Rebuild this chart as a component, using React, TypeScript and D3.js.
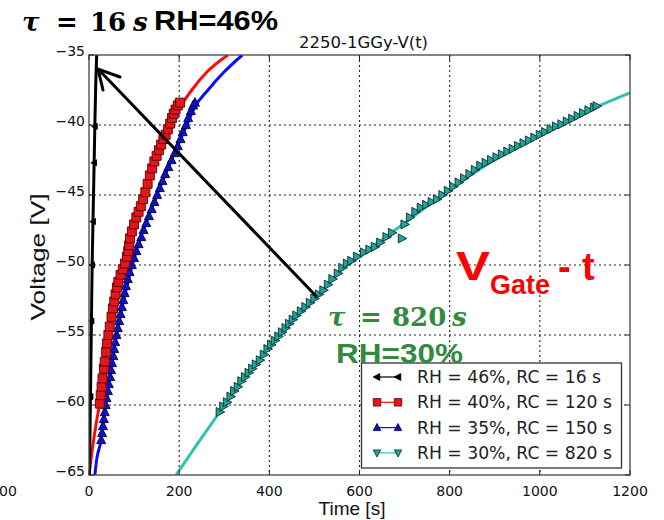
import React from "react";
import * as d3 from "d3";

// ---------- data ----------
const xTicks = [0, 200, 400, 600, 800, 1000, 1200];
const yTicks = [-65, -60, -55, -50, -45, -40, -35];

// RH = 46%, RC = 16 s
const blackLine: [number, number][] = [
  [1, -65], [3, -60], [5, -55], [7, -50], [10, -45], [13, -40], [15, -37], [17, -35],
];
const blackMarkers: [number, number][] = [
  [3.5, -59.4], [5.5, -54], [7, -50], [9, -46.9], [11.5, -42.7], [13, -40.1],
];

// RH = 40%, RC = 120 s
const redLine: [number, number][] = [
  [0, -65], [8, -63], [16, -61.3], [23, -60], [33, -57.5], [43, -55], [58, -52.5], [77, -50],
  [98, -47.5], [123, -45], [151, -42.5], [183, -40], [203, -38.7], [228, -37.5], [262, -36.2], [308, -35],
];
const redMarkers: [number, number][] = [
  [24, -59.9], [26, -59.3], [28, -58.7], [30, -58.1], [33, -57.4], [35, -56.9], [38, -56.2], [40, -55.6],
  [43, -55.0], [46, -54.4], [50, -53.7], [53, -53.1], [56, -52.6], [59, -52.1], [62, -51.6], [65, -51.2],
  [70, -50.7], [75, -50.3], [80, -49.9], [84, -49.4], [87, -49.0], [89, -48.6], [91, -48.1], [95, -47.6],
  [100, -47.1], [105, -46.6], [110, -46.2], [115, -45.8], [120, -45.3], [125, -44.8], [130, -44.2],
  [135, -43.6], [140, -43.1], [145, -42.6], [150, -42.2], [155, -41.8], [160, -41.4], [165, -41.0],
  [170, -40.7], [175, -40.3], [180, -39.9], [184, -39.5], [188, -39.2], [192, -38.9], [197, -38.6], [202, -38.4],
];

// RH = 35%, RC = 150 s
const blueLine: [number, number][] = [
  [13, -65], [17, -63.9], [27, -62.5], [37, -60], [61, -55], [96, -50], [151, -45], [217, -40],
  [235, -38.7], [264, -37.5], [300, -36.2], [340, -35],
];
const blueMarkers: [number, number][] = [
  [27, -62.5], [29, -62.0], [31, -61.5], [33, -61.0], [35, -60.5], [37, -60.0], [39, -59.5], [42, -59.0],
  [44, -58.5], [47, -58.0], [49, -57.5], [51, -57.0], [54, -56.5], [56, -56.0], [58, -55.5], [61, -55.0],
  [64, -54.5], [67, -54.0], [70, -53.5], [73, -53.0], [76, -52.5], [79, -52.0], [82, -51.5], [86, -51.0],
  [90, -50.5], [95, -50.0], [100, -49.5], [105, -49.0], [110, -48.5], [116, -48.0], [121, -47.5],
  [127, -47.0], [133, -46.5], [139, -46.0], [145, -45.5], [151, -45.0], [157, -44.5], [163, -44.0],
  [169, -43.5], [176, -43.0], [183, -42.5], [190, -42.0], [197, -41.5], [203, -41.0], [208, -40.5],
  [215, -40.0], [220, -39.5], [226, -39.0], [231, -38.6], [235, -38.4],
];

// RH = 30%, RC = 820 s
const tealLine: [number, number][] = [
  [193, -65], [240, -62.8], [290, -60.5], [350, -57.8], [400, -55.8], [450, -53.9], [510, -52.1],
  [562, -50.3], [620, -48.9], [700, -47.0], [780, -45.1], [850, -43.5], [930, -41.9], [1000, -40.7],
  [1050, -39.9], [1126, -38.7], [1200, -37.7],
];
const tealMarkers: [number, number][] = [
  [290, -60.5], [298, -60.1], [306, -59.8], [314, -59.4], [322, -59.0], [330, -58.7], [338, -58.3],
  [346, -58.0], [354, -57.7], [362, -57.4], [370, -57.1], [379, -56.8], [388, -56.4], [396, -56.0],
  [404, -55.7], [412, -55.4], [420, -55.1], [428, -54.8], [436, -54.5], [444, -54.2], [452, -53.9],
  [460, -53.6], [470, -53.3], [480, -53.0], [490, -52.7], [500, -52.4], [510, -52.1], [520, -51.8],
  [530, -51.4], [540, -51.0], [552, -50.6], [562, -50.2], [572, -49.9], [582, -49.7], [595, -49.4],
  [610, -49.1], [622, -48.9], [634, -48.7], [646, -48.4], [660, -48.0], [672, -47.7], [694, -48.1],
  [700, -47.1], [712, -46.6], [724, -46.2], [736, -45.9], [748, -45.7], [760, -45.5], [772, -45.3],
  [784, -45.0], [796, -44.7], [808, -44.4], [820, -44.1], [832, -43.8], [844, -43.5], [856, -43.2],
  [868, -42.9], [880, -42.7], [892, -42.5], [904, -42.3], [916, -42.1], [928, -41.9], [940, -41.7],
  [952, -41.5], [964, -41.3], [976, -41.1], [988, -40.9], [1000, -40.7], [1012, -40.5], [1024, -40.3],
  [1036, -40.1], [1048, -39.95], [1060, -39.75], [1072, -39.55], [1084, -39.35], [1096, -39.15],
  [1108, -38.95], [1120, -38.75], [1126, -38.65],
];

const legendLabels = [
  "RH = 46%, RC = 16 s",
  "RH = 40%, RC = 120 s",
  "RH = 35%, RC = 150 s",
  "RH = 30%, RC = 820 s",
];

const title = "2250-1GGy-V(t)";
const xLabel = "Time [s]";
const yLabel = "Voltage [V]";

// ---------- layout ----------
const W = 664, H = 520;
const L = 89, R = 630, T = 55, B = 475;

const x = d3.scaleLinear().domain([0, 1200]).range([L, R]);
const y = d3.scaleLinear().domain([-65, -35]).range([B, T]);

const line = d3
  .line<[number, number]>()
  .x((d) => x(d[0]))
  .y((d) => y(d[1]))
  .curve(d3.curveMonotoneX);

const SANS = "'DejaVu Sans', sans-serif";
const ARIAL = "'Liberation Sans', Arial, sans-serif";
const SERIF = "'DejaVu Serif', serif";
const fmt = (v: number) => String(v).replace("-", "\u2212");

type MarkerKind = "left" | "square" | "up" | "down" | "right";

function markerPath(kind: MarkerKind, s: number): string {
  const h = s / 2;
  switch (kind) {
    case "square":
      return `M${-h},${-h}H${h}V${h}H${-h}Z`;
    case "up":
      return `M0,${-h * 1.1}L${h},${h * 0.8}L${-h},${h * 0.8}Z`;
    case "down":
      return `M0,${h * 1.1}L${h},${-h * 0.8}L${-h},${-h * 0.8}Z`;
    case "right":
      return `M${h * 1.1},0L${-h * 0.8},${h}L${-h * 0.8},${-h}Z`;
    case "left":
      return `M${-h * 1.1},0L${h * 0.8},${h}L${h * 0.8},${-h}Z`;
  }
}

const styles = {
  black: { line: "#000000", fill: "#000000", stroke: "#000000", kind: "left" as MarkerKind, size: 6 },
  red: { line: "#ff0a0a", fill: "#e3161b", stroke: "#5a0000", kind: "square" as MarkerKind, size: 9 },
  blue: { line: "#0a0aff", fill: "#1010cc", stroke: "#000040", kind: "up" as MarkerKind, size: 9 },
  teal: { line: "#2ec4b4", fill: "#1fa497", stroke: "#0b2e2b", kind: "right" as MarkerKind, size: 9 },
};

export default function App() {
  const gridDash = "2,3";
  const series = [
    { ln: tealLine, mk: tealMarkers, st: styles.teal },
    { ln: blueLine, mk: blueMarkers, st: styles.blue },
    { ln: redLine, mk: redMarkers, st: styles.red },
    { ln: blackLine, mk: blackMarkers, st: styles.black },
  ];
  const legendStyles = [
    { ...styles.black, kind: "left" as MarkerKind },
    styles.red,
    styles.blue,
    { ...styles.teal, kind: "down" as MarkerKind },
  ];
  const green = "#33893f";

  return (
    <svg
      width={W}
      height={H}
      viewBox={`0 0 ${W} ${H}`}
      style={{ position: "absolute", left: 0, top: 0, background: "#fff" }}
    >
      <defs>
        <clipPath id="plot">
          <rect x={L} y={T} width={R - L} height={B - T} />
        </clipPath>
      </defs>
      <rect x={0} y={0} width={W} height={H} fill="#fff" />

      {/* grid */}
      <g stroke="#222" strokeWidth={1.1} strokeDasharray={gridDash}>
        {xTicks.slice(1, -1).map((t) => (
          <line key={"gx" + t} x1={x(t)} x2={x(t)} y1={T} y2={B} />
        ))}
        {yTicks.slice(1, -1).map((v) => (
          <line key={"gy" + v} x1={L} x2={R} y1={y(v)} y2={y(v)} />
        ))}
      </g>

      {/* series */}
      <g clipPath="url(#plot)">
        {series.map((s, i) => (
          <path
            key={"l" + i}
            d={line(s.ln) || ""}
            fill="none"
            stroke={s.st.line}
            strokeWidth={3}
          />
        ))}
        {series.map((s, i) => (
          <g key={"m" + i}>
            {s.mk.map((d, j) => (
              <path
                key={j}
                transform={`translate(${x(d[0])},${y(d[1])})`}
                d={markerPath(s.st.kind, s.st.size)}
                fill={s.st.fill}
                stroke={s.st.stroke}
                strokeWidth={0.9}
              />
            ))}
          </g>
        ))}
      </g>

      {/* frame */}
      <rect x={L} y={T} width={R - L} height={B - T} fill="none" stroke="#444" strokeWidth={1.3} />
      {/* ticks */}
      <g stroke="#222" strokeWidth={1}>
        {xTicks.map((t) => (
          <g key={"tx" + t}>
            <line x1={x(t)} x2={x(t)} y1={B} y2={B - 5} />
            <line x1={x(t)} x2={x(t)} y1={T} y2={T + 5} />
          </g>
        ))}
        {yTicks.map((v) => (
          <g key={"ty" + v}>
            <line x1={L} x2={L + 5} y1={y(v)} y2={y(v)} />
            <line x1={R} x2={R - 5} y1={y(v)} y2={y(v)} />
          </g>
        ))}
      </g>

      {/* tick labels */}
      <g fontFamily={SANS} fontSize={14} fill="#111">
        {yTicks.map((v) => (
          <text key={"yl" + v} x={L - 4} y={y(v) + 1} textAnchor="end">
            {fmt(v)}
          </text>
        ))}
        {xTicks.map((t) => (
          <text key={"xl" + t} x={x(t)} y={B + 21} textAnchor="middle">
            {fmt(t)}
          </text>
        ))}
        <text x={-1} y={B + 21}>00</text>
      </g>

      {/* axis labels and title */}
      <text x={(L + R) / 2 + 4} y={48} fontFamily={SANS} fontSize={16.5} textAnchor="middle" fill="#111">
        {title}
      </text>
      <text x={352} y={515} fontFamily={ARIAL} fontSize={19} textAnchor="middle" fill="#111">
        {xLabel}
      </text>
      <text
        transform={`translate(45,257) rotate(-90)`}
        fontFamily={ARIAL}
        fontSize={21}
        textAnchor="middle"
        fill="#111"
        textLength={127}
        lengthAdjust="spacingAndGlyphs"
      >
        {yLabel}
      </text>

      {/* legend */}
      <rect x={361.5} y={363} width={260} height={105} fill="#fff" stroke="#333" strokeWidth={1.3} />
      {legendLabels.map((lab, i) => {
        const ly = 377 + i * 25.3;
        const st = legendStyles[i];
        return (
          <g key={"lg" + i}>
            <line x1={377} x2={398} y1={ly} y2={ly} stroke={st.line} strokeWidth={1.2} />
            {[377, 398].map((mx) => (
              <path
                key={mx}
                transform={`translate(${mx},${ly})`}
                d={markerPath(st.kind, i === 0 ? 7 : 7.5)}
                fill={st.fill}
                stroke={st.stroke}
                strokeWidth={0.8}
              />
            ))}
            <text x={417} y={ly + 6} fontFamily={SANS} fontSize={17.2} fill="#222">
              {lab}
            </text>
          </g>
        );
      })}

      {/* arrow */}
      <g stroke="#000" strokeWidth={3} fill="none" strokeLinecap="round">
        <line x1={316} y1={296} x2={99} y2={70} />
        <polyline points="120,77 98,69 103,90" />
      </g>

      {/* annotations */}
      <text y={31} fontFamily={SERIF} fontWeight="bold" fontSize={26} fill="#000">
        <tspan x={22} fontStyle="italic">τ</tspan>
        <tspan x={56}>=</tspan>
        <tspan x={90}>16</tspan>
        <tspan x={133} fontStyle="italic">s</tspan>
      </text>
      <text x={154} y={30} fontFamily={ARIAL} fontWeight="bold" fontSize={28} fill="#000" textLength={124} lengthAdjust="spacingAndGlyphs">
        RH=46%
      </text>

      <text y={280} fontFamily={ARIAL} fontWeight="bold" fill="#ff0000">
        <tspan x={456} fontSize={40} textLength={34} lengthAdjust="spacingAndGlyphs">V</tspan>
        <tspan x={490} y={294} fontSize={27}>Gate</tspan>
        <tspan x={558} y={280} fontSize={38}>-</tspan>
        <tspan x={582} y={280} fontSize={38}>t</tspan>
      </text>

      <text y={326} fontFamily={SERIF} fontWeight="bold" fontSize={26} fill={green}>
        <tspan x={328} fontStyle="italic">τ</tspan>
        <tspan x={360}>=</tspan>
        <tspan x={392}>820</tspan>
        <tspan x={452} fontStyle="italic">s</tspan>
      </text>
      <text x={336} y={363} fontFamily={ARIAL} fontWeight="bold" fontSize={28} fill={green} textLength={127} lengthAdjust="spacingAndGlyphs">
        RH=30%
      </text>
    </svg>
  );
}
